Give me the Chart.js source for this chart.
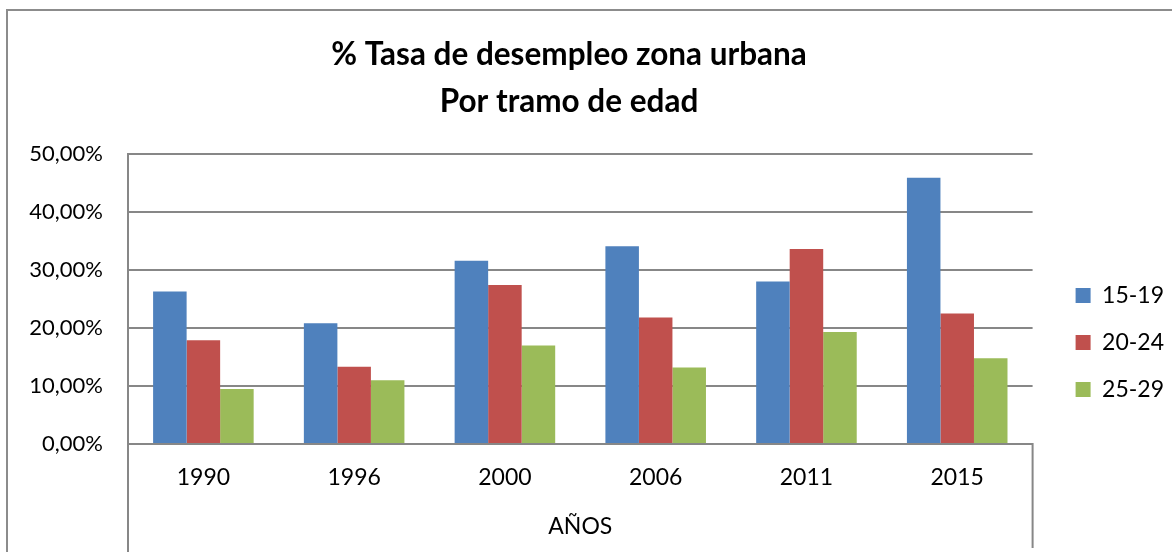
<!DOCTYPE html>
<html>
<head>
<meta charset="utf-8">
<script src="https://cdn.jsdelivr.net/npm/chart.js@4.4.1/dist/chart.umd.min.js"></script>
<style>
  html, body { margin: 0; padding: 0; background: #ffffff; }
  #wrap { width: 1172px; height: 552px; position: relative; }
</style>
</head>
<body>
<div id="wrap"><canvas id="c" width="1172" height="552"></canvas></div>
<script>
const categories = ['1990', '1996', '2000', '2006', '2011', '2015'];
const seriesNames = ['15-19', '20-24', '25-29'];
const values1519 = [26.3, 20.8, 31.6, 34.1, 28.0, 45.9];
const values2024 = [17.9, 13.3, 27.4, 21.8, 33.6, 22.5];
const values2529 = [9.5, 11.0, 17.0, 13.2, 19.3, 14.8];
const yTicks = [0, 10, 20, 30, 40, 50];
const titleLines = ['% Tasa de desempleo zona urbana', 'Por tramo de edad'];
const xAxisTitle = 'AÑOS';

const colors = ['#4F81BD', '#C0504D', '#9BBB59'];
const gridColor = '#878787';
const FONT = "Lato, 'Open Sans', 'Liberation Sans', sans-serif";

const decorPlugin = {
  id: 'decor',
  afterLayout(chart) {
    const ca = chart.chartArea;
    const lg = chart.legend;
    if (lg) {
      const w = lg.right - lg.left;
      const h = lg.bottom - lg.top;
      lg.left = ca.right + 19;
      lg.right = lg.left + w;
      lg.top = ca.top + 106;
      lg.bottom = lg.top + h;
    }
    const tb = chart.titleBlock;
    if (tb) {
      tb.left = 7;
      tb.right = 1131;
    }
  },
  beforeDraw(chart) {
    const ctx = chart.ctx;
    ctx.save();
    ctx.strokeStyle = '#8c8c8c';
    ctx.lineWidth = 2;
    ctx.beginPath();
    ctx.moveTo(7, chart.height);
    ctx.lineTo(7, 10);
    ctx.lineTo(chart.width, 10);
    ctx.stroke();
    ctx.restore();
  },
  afterDraw(chart) {
    const ctx = chart.ctx;
    const ca = chart.chartArea;
    ctx.save();
    ctx.strokeStyle = gridColor;
    ctx.lineWidth = 2;
    ctx.beginPath();
    ctx.moveTo(ca.left, ca.bottom);
    ctx.lineTo(ca.left, chart.height);
    ctx.moveTo(ca.right, ca.bottom - 1);
    ctx.lineTo(ca.right, chart.height - 4);
    ctx.stroke();
    ctx.restore();
  }
};

const ctx = document.getElementById('c').getContext('2d');
new Chart(ctx, {
  type: 'bar',
  data: {
    labels: categories,
    datasets: [
      { label: seriesNames[0], data: values1519, backgroundColor: colors[0] },
      { label: seriesNames[1], data: values2024, backgroundColor: colors[1] },
      { label: seriesNames[2], data: values2529, backgroundColor: colors[2] }
    ]
  },
  options: {
    responsive: false,
    animation: false,
    devicePixelRatio: 1,
    layout: { padding: { left: 0, right: 17, top: 0, bottom: 0 } },
    datasets: {
      bar: { categoryPercentage: 0.667, barPercentage: 1.0, borderWidth: 0 }
    },
    plugins: {
      title: {
        display: true,
        text: titleLines,
        color: '#000000',
        font: { family: FONT, size: 31.5, weight: 'bold', lineHeight: '47px' },
        padding: { top: 31.5, bottom: 28.5 }
      },
      legend: {
        display: true,
        position: 'right',
        align: 'start',
        labels: {
          boxWidth: 15,
          boxHeight: 15,
          padding: 24,
          color: '#000000',
          font: { family: FONT, size: 23 }
        }
      },
      tooltip: { enabled: false }
    },
    scales: {
      x: {
        grid: { display: false, drawTicks: false },
        border: { display: false },
        ticks: {
          color: '#000000',
          padding: 20,
          font: { family: FONT, size: 23 }
        },
        title: {
          display: true,
          text: xAxisTitle,
          color: '#000000',
          font: { family: FONT, size: 23 },
          padding: { top: 1.6, bottom: 11.2 }
        }
      },
      y: {
        min: 0,
        max: 50,
        afterFit(scale) { scale.width = 128; },
        afterBuildTicks(scale) { scale.ticks = yTicks.map(v => ({ value: v })); },
        grid: { color: gridColor, lineWidth: 2, drawTicks: false },
        border: { display: true, color: gridColor, width: 2 },
        ticks: {
          color: '#000000',
          padding: 25,
          font: { family: FONT, size: 22 },
          callback: (v) => v.toFixed(2).replace('.', ',') + '%'
        }
      }
    }
  },
  plugins: [decorPlugin]
});
</script>
</body>
</html>
